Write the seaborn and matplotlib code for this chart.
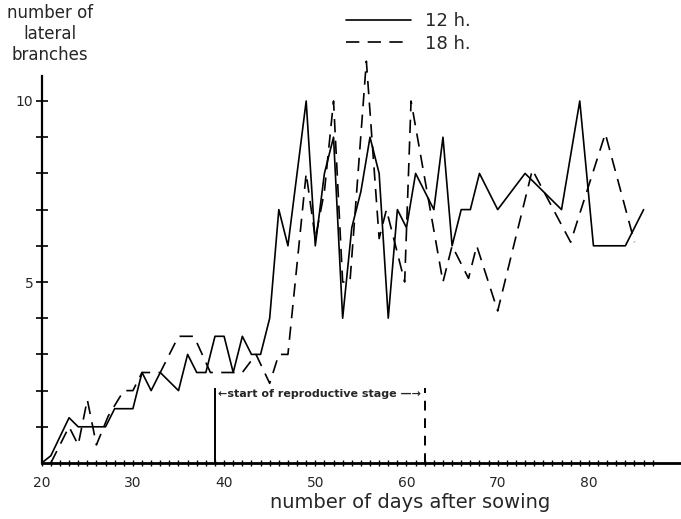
import matplotlib
matplotlib.use("Agg")
import numpy as np
import pandas as pd
import seaborn as sns
import matplotlib.pyplot as plt

# ---- data ----
days_12h = [20, 21, 23, 24, 27, 28, 30, 31, 32, 33, 35, 36, 37, 38, 39, 40, 41, 42, 43, 44,
            45, 46, 47, 49, 50, 51, 52, 53, 54, 55, 56, 57, 58, 59, 60, 61, 62, 63, 64,
            65, 66, 67, 68, 70, 73, 77, 79, 80.5, 84, 86]
branches_12h = [0, 0.2, 1.25, 1, 1, 1.5, 1.5, 2.5, 2, 2.5, 2, 3, 2.5, 2.5, 3.5, 3.5, 2.5, 3.5, 3, 3,
                4, 7, 6, 10, 6, 8, 9, 4, 6.5, 7.5, 9, 8, 4, 7, 6.5, 8, 7.5, 7, 9,
                6, 7, 7, 8, 7, 8, 7, 10, 6, 6, 7]

days_18h = [21, 23, 24, 25, 26, 27.3, 29, 30, 31, 33, 35, 36.7, 38.5, 42, 43.5, 45, 46, 47,
            49, 50, 51, 52, 53, 53.8, 55.6, 57, 57.8, 59.8, 60.5, 64, 65, 66.8, 67.7, 70,
            73.8, 78, 81.8, 85]
branches_18h = [0, 1.0, 0.5, 1.75, 0.5, 1.3, 2, 2, 2.5, 2.5, 3.5, 3.5, 2.5, 2.5, 3, 2.2, 3, 3,
                8, 6.2, 7.5, 10, 5, 5, 11.1, 6.2, 7, 5, 10, 5, 6, 5.1, 6, 4.2,
                8.1, 6.1, 9.1, 6.1]

series_labels = ["12 h.", "18 h."]
x_tick_values = [20, 30, 40, 50, 60, 70, 80]
y_labelled_ticks = {5: "5", 10: "10"}
repro_start_day = 39
repro_end_day = 62
repro_label = "\u2190start of reproductive stage \u2014\u2192"

# ---- build frame ----
df = pd.concat([
    pd.DataFrame({"day": days_12h, "branches": branches_12h, "series": series_labels[0]}),
    pd.DataFrame({"day": days_18h, "branches": branches_18h, "series": series_labels[1]}),
], ignore_index=True)

sns.set_theme(style="white")
plt.rcParams["font.family"] = ["DejaVu Sans"]

W, H = 681, 519
fig = plt.figure(figsize=(W / 100, H / 100), dpi=100)
x0, y0 = 41.7, 463.0
top_px = 46.7
ax = fig.add_axes([x0 / W, 1 - y0 / H, 1 - x0 / W, (y0 - top_px) / H])

sns.lineplot(data=df, x="day", y="branches", hue="series", style="series",
             palette={series_labels[0]: "black", series_labels[1]: "black"},
             dashes={series_labels[0]: "", series_labels[1]: (8, 5)},
             linewidth=1.2, estimator=None, sort=False, legend=False, ax=ax)

ax.set_xlim(20, 90.1)
ax.set_ylim(0, 11.5)

for s in ["top", "right"]:
    ax.spines[s].set_visible(False)
ax.spines["left"].set_bounds(0, 10.7)
ax.spines["left"].set_linewidth(1.6)
ax.spines["bottom"].set_linewidth(2.0)
ax.spines["left"].set_color("black")
ax.spines["bottom"].set_color("black")

ax.set_xticks(x_tick_values)
ax.set_xticklabels([str(v) for v in x_tick_values], fontsize=10)
ax.set_xticks(list(range(20, 88)), minor=True)
ax.tick_params(axis="x", which="both", direction="inout", length=5, width=1.0,
               color="black", pad=7, bottom=True)

yt = list(range(1, 11))
ax.set_yticks(yt)
ax.set_yticklabels([y_labelled_ticks.get(v, "") for v in yt], fontsize=10)
ax.tick_params(axis="y", which="major", direction="inout", length=8, width=1.2,
               color="black", pad=2, left=True)

ax.set_xlabel("")
ax.set_ylabel("")

# reproductive stage markers
marker_h = 2.07
ax.vlines(repro_start_day, 0, marker_h, color="black", linewidth=1.4)
ax.vlines(repro_end_day, 0, marker_h, color="black", linewidth=1.4, linestyles=(0, (5, 4)))
ax.text((repro_start_day + repro_end_day) / 2, 1.9, repro_label, ha="center", va="center",
        fontsize=8, fontweight="bold")

# legend
lines = ax.get_lines()[:2]
fig.legend(lines, series_labels, loc="upper left", bbox_to_anchor=(346 / W, 1 - 12 / H),
           frameon=False, fontsize=13, handlelength=3.6, handletextpad=0.8,
           labelspacing=0.25, borderpad=0, borderaxespad=0)

# axis titles
fig.text(410 / W, 1 - 502 / H, "number of days after sowing", ha="center", va="center", fontsize=14)
fig.text(50 / W, 1 - 34 / H, "number of\nlateral\nbranches", ha="center", va="center",
         fontsize=12, linespacing=1.2)

fig.savefig("out.png", dpi=100)
